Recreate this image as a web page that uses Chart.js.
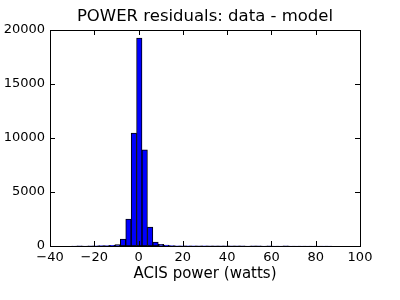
<!DOCTYPE html>
<html>
<head>
<meta charset="utf-8">
<script src="https://cdn.jsdelivr.net/npm/chart.js@4.4.0/dist/chart.umd.min.js"></script>
<style>
  html, body { margin: 0; padding: 0; background: #fff; }
  #wrap { width: 400px; height: 300px; }
</style>
</head>
<body>
<div id="wrap"><canvas id="chart"></canvas></div>
<script>
// histogram bins: first left edge and bin width (watts)
const binStart = -30.3;
const binWidth = 2.45;
const counts = [
  3, 5, 4, 8, 10, 30, 45, 70, 140, 640,
  2500, 10450, 19250, 8900, 1760, 370, 150, 80, 45, 25,
  15, 12, 10, 8, 9, 7, 6, 8, 5, 6,
  7, 5, 4, 6, 5, 4, 5, 3, 4, 5,
  3, 4, 3, 2, 3, 2, 3, 2
];
const xTicks = [-40, -20, 0, 20, 40, 60, 80, 100];
const yTicks = [0, 5000, 10000, 15000, 20000];

const points = counts.map((c, i) => ({ x: binStart + binWidth * (i + 0.5), y: c }));

Chart.defaults.font.family = "'DejaVu Sans', sans-serif";
Chart.defaults.color = "#000";

// matplotlib style frame with inward ticks on all four sides
const frame = {
  id: "frame",
  afterDatasetsDraw(chart) {
    const { ctx, chartArea: a, scales } = chart;
    ctx.save();
    ctx.strokeStyle = "#000";
    ctx.lineWidth = 1;
    ctx.beginPath();
    xTicks.forEach(v => {
      const px = Math.round(scales.x.getPixelForValue(v)) + 0.5;
      ctx.moveTo(px, a.bottom); ctx.lineTo(px, a.bottom - 5);
      ctx.moveTo(px, a.top); ctx.lineTo(px, a.top + 5);
    });
    yTicks.forEach(v => {
      const py = Math.round(scales.y.getPixelForValue(v)) + 0.5;
      ctx.moveTo(a.left, py); ctx.lineTo(a.left + 5, py);
      ctx.moveTo(a.right, py); ctx.lineTo(a.right - 5, py);
    });
    ctx.stroke();
    ctx.strokeRect(Math.round(a.left) + 0.5, Math.round(a.top) + 0.5,
      Math.round(a.right - a.left), Math.round(a.bottom - a.top));
    ctx.restore();
  }
};

new Chart(document.getElementById("chart"), {
  type: "bar",
  data: {
    datasets: [{
      data: points,
      backgroundColor: "#0000ff",
      borderColor: "#000",
      borderWidth: 1,
      barPercentage: 1,
      categoryPercentage: 1,
      borderSkipped: false
    }]
  },
  plugins: [frame],
  options: {
    responsive: true,
    maintainAspectRatio: false,
    animation: false,
    layout: { padding: { right: 40, left: 0, top: 0, bottom: 0 } },
    plugins: {
      legend: { display: false },
      tooltip: { enabled: false },
      title: {
        display: true,
        fullSize: false,
        text: "POWER residuals: data - model",
        color: "#000",
        font: { size: 16.5, weight: "normal" },
        padding: { top: 7, bottom: 3.2 }
      }
    },
    scales: {
      x: {
        type: "linear",
        min: -40,
        max: 100,
        offset: false,
        afterFit: s => { s.height = 54; },
        afterBuildTicks: s => { s.ticks = xTicks.map(v => ({ value: v })); },
        grid: { display: false, drawTicks: false },
        border: { display: false },
        ticks: {
          padding: 4,
          font: { size: 13 },
          maxRotation: 0,
          callback: v => (v < 0 ? "\u2212" + Math.abs(v) : String(v))
        },
        title: {
          display: true,
          text: "ACIS power (watts)",
          font: { size: 15 },
          padding: { top: 0, bottom: 17 }
        }
      },
      y: {
        min: 0,
        max: 20000,
        afterFit: s => { s.width = 50; },
        afterBuildTicks: s => { s.ticks = yTicks.map(v => ({ value: v })); },
        grid: { display: false, drawTicks: false },
        border: { display: false },
        ticks: { padding: 5, font: { size: 13 }, callback: v => String(v) }
      }
    }
  }
});
</script>
</body>
</html>
